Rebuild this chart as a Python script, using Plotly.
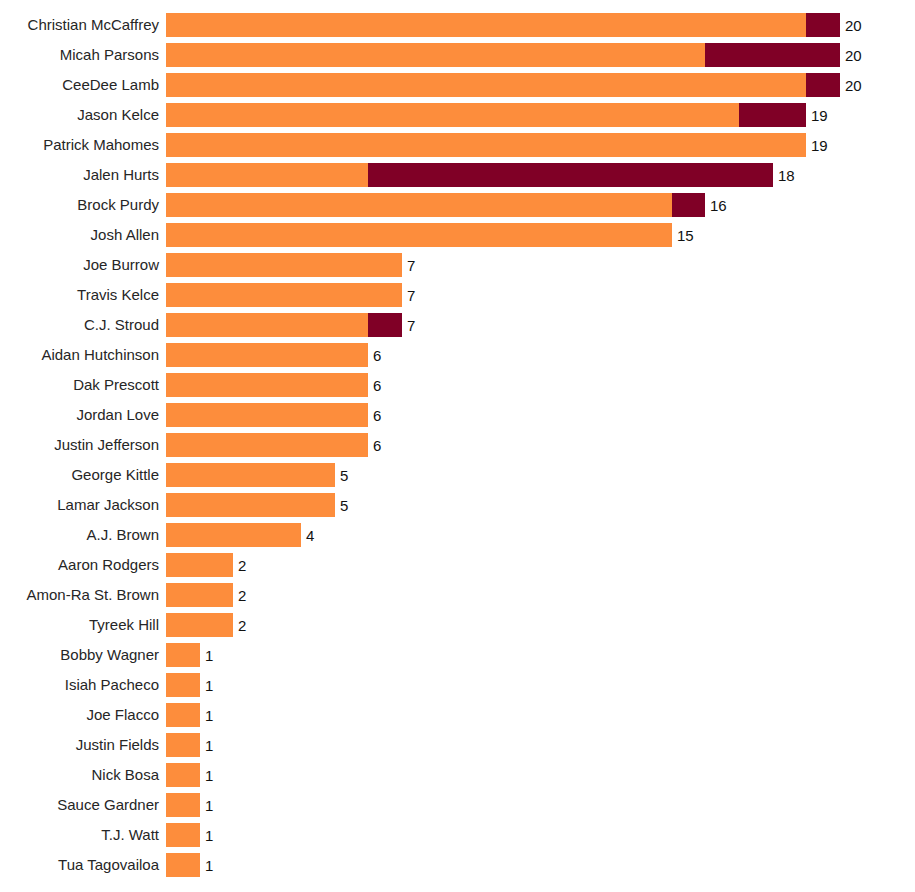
import plotly.graph_objects as go

players = ["Christian McCaffrey", "Micah Parsons", "CeeDee Lamb", "Jason Kelce", "Patrick Mahomes",
           "Jalen Hurts", "Brock Purdy", "Josh Allen", "Joe Burrow", "Travis Kelce", "C.J. Stroud",
           "Aidan Hutchinson", "Dak Prescott", "Jordan Love", "Justin Jefferson", "George Kittle",
           "Lamar Jackson", "A.J. Brown", "Aaron Rodgers", "Amon-Ra St. Brown", "Tyreek Hill",
           "Bobby Wagner", "Isiah Pacheco", "Joe Flacco", "Justin Fields", "Nick Bosa",
           "Sauce Gardner", "T.J. Watt", "Tua Tagovailoa"]
orange_vals = [19, 16, 19, 17, 19, 6, 15, 15, 7, 7, 6, 6, 6, 6, 6, 5, 5, 4, 2, 2, 2, 1, 1, 1, 1, 1, 1, 1, 1]
red_vals = [1, 4, 1, 2, 0, 12, 1, 0, 0, 0, 1, 0, 0, 0, 0, 0, 0, 0, 0, 0, 0, 0, 0, 0, 0, 0, 0, 0, 0]
totals = [o + r for o, r in zip(orange_vals, red_vals)]

fig = go.Figure()
fig.add_trace(go.Bar(y=players, x=orange_vals, orientation="h", marker_color="#FD8D3C",
                     marker_line_width=0, hoverinfo="x+y"))
fig.add_trace(go.Bar(y=players, x=red_vals, orientation="h", marker_color="#800026",
                     marker_line_width=0, hoverinfo="x+y"))

for p, t in zip(players, totals):
    fig.add_annotation(x=t, y=p, text=str(t), showarrow=False, xanchor="left",
                       xshift=3, font=dict(family="Liberation Sans, Arial", size=15, color="#111111"))

fig.update_layout(
    barmode="stack",
    bargap=0.17,
    showlegend=False,
    width=915, height=892,
    margin=dict(l=166, r=75, t=10, b=12),
    plot_bgcolor="white", paper_bgcolor="white",
    font=dict(family="Liberation Sans, Arial", size=15, color="#262626"),
    xaxis=dict(range=[0, 20], visible=False, showgrid=False, automargin=False),
    yaxis=dict(autorange="reversed", showgrid=False, showline=False, ticks="", automargin=False,
               ticklabelstandoff=6, tickfont=dict(size=15, color="#262626")),
)

fig.write_html("out.html", config={"displayModeBar": False},
               post_script="document.body.style.margin='0';")
